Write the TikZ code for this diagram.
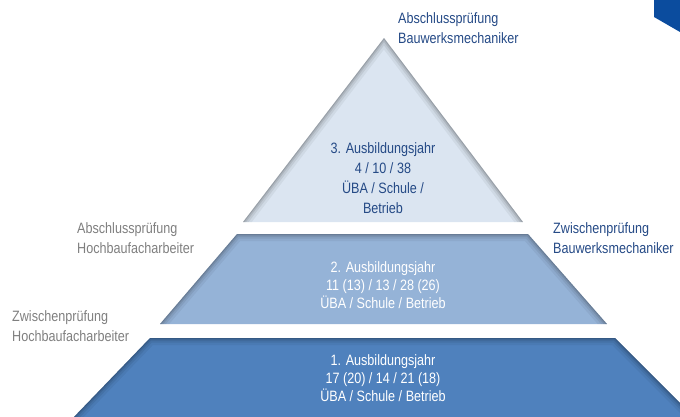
\documentclass[tikz,border=0pt]{standalone}
\usepackage{fontspec}
\setmainfont{Liberation Sans}[FakeStretch=0.84]
\usepackage{tikz}

\definecolor{stufeeins}{HTML}{4F81BD}
\definecolor{stufezwei}{HTML}{95B3D7}
\definecolor{stufedrei}{HTML}{DBE5F1}
\definecolor{textblau}{HTML}{254A86}
\definecolor{textgrau}{HTML}{7F7F7F}
\definecolor{eckblau}{HTML}{0B4C9E}

\tikzset{
  label/.style={align=left, anchor=west, font=\fontsize{15}{20}\selectfont, inner sep=0pt},
  stufe/.style={align=center, font=\fontsize{15}{18}\selectfont, inner sep=0pt},
}

\begin{document}
\begin{tikzpicture}[x=1pt, y=-1pt]
  \useasboundingbox (0,0) rectangle (680,417);

  % Ecke oben rechts
  \fill[eckblau] (654,0) -- (680,0) -- (680,32) -- (654,17) -- cycle;

  % 1. Ausbildungsjahr
  \fill[stufeeins] (150,338) -- (615,338) -- (697,420) -- (71,420) -- cycle;
  \begin{scope}
    \clip (150,338) -- (615,338) -- (697,420) -- (71,420) -- cycle;
    \foreach \w/\o in {14/0.05, 9/0.07, 5/0.09, 2/0.12}
      \draw[line width=\w pt, black, opacity=\o] (71,420) -- (150,338) -- (615,338) -- (697,420);
  \end{scope}

  % 2. Ausbildungsjahr
  \fill[stufezwei] (237,234) -- (528,234) -- (607,324) -- (160,324) -- cycle;
  \begin{scope}
    \clip (237,234) -- (528,234) -- (607,324) -- (160,324) -- cycle;
    \foreach \w/\o in {14/0.05, 9/0.07, 5/0.09, 2/0.12}
      \draw[line width=\w pt, black, opacity=\o] (160,324) -- (237,234) -- (528,234) -- (607,324);
  \end{scope}

  % 3. Ausbildungsjahr
  \fill[stufedrei] (384,38) -- (523,222) -- (243,222) -- cycle;
  \begin{scope}
    \clip (384,38) -- (523,222) -- (243,222) -- cycle;
    \foreach \w/\o in {14/0.05, 9/0.07, 5/0.09, 2/0.12}
      \draw[line width=\w pt, black, opacity=\o] (243,222) -- (384,38) -- (523,222);
  \end{scope}

  % Texte in den Stufen
  \node[stufe, text=textblau, font=\fontsize{15}{20}\selectfont] (jahr3) at (383,178)
    {3. Ausbildungsjahr\\4 / 10 / 38\\ÜBA / Schule /\\Betrieb};
  \node[stufe, text=white] (jahr2) at (383,285)
    {2. Ausbildungsjahr\\11 (13) / 13 / 28 (26)\\ÜBA / Schule / Betrieb};
  \node[stufe, text=white] (jahr1) at (383,378)
    {1. Ausbildungsjahr\\17 (20) / 14 / 21 (18)\\ÜBA / Schule / Betrieb};

  % Pruefungen
  \node[label, text=textblau] (abschlussbw) at (398,28)
    {Abschlussprüfung\\Bauwerksmechaniker};
  \node[label, text=textblau] (zwischenbw) at (553,238)
    {Zwischenprüfung\\Bauwerksmechaniker};
  \node[label, text=textgrau] (abschlusshb) at (77,238)
    {Abschlussprüfung\\Hochbaufacharbeiter};
  \node[label, text=textgrau] (zwischenhb) at (12,326)
    {Zwischenprüfung\\Hochbaufacharbeiter};
\end{tikzpicture}
\end{document}
